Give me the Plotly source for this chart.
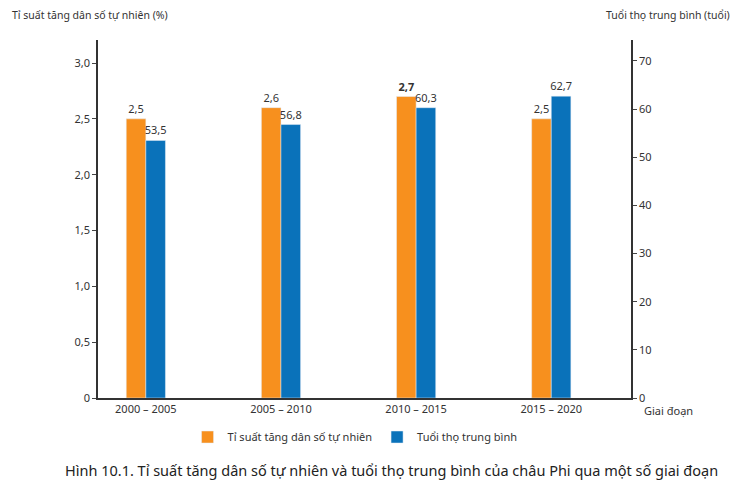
import plotly.graph_objects as go

periods = ["2000 – 2005", "2005 – 2010", "2010 – 2015", "2015 – 2020"]
growth = [2.5, 2.6, 2.7, 2.5]
growth_lbl = ["2,5", "2,6", "<b>2,7</b>", "2,5"]
life = [53.5, 56.8, 60.3, 62.7]
life_lbl = ["53,5", "56,8", "60,3", "62,7"]
lt_vals = [0, 0.5, 1.0, 1.5, 2.0, 2.5, 3.0]
lt_text = ["0", "0,5", "1,0", "1,5", "2,0", "2,5", "3,0"]
rt_vals = [0, 10, 20, 30, 40, 50, 60, 70]

OR = "#F7901E"; BL = "#0A72BA"
fig = go.Figure()
fig.add_bar(x=periods, y=growth, name="Tỉ suất tăng dân số tự nhiên", marker_color=OR,
            text=growth_lbl, textposition="outside", offsetgroup="a", yaxis="y",
            textfont=dict(size=11, color="#333"), cliponaxis=False)
fig.add_bar(x=periods, y=life, name="Tuổi thọ trung bình", marker_color=BL,
            text=life_lbl, textposition="outside", offsetgroup="b", yaxis="y2",
            textfont=dict(size=11, color="#333"), cliponaxis=False)
fig.update_layout(
    width=746, height=487, margin=dict(l=90, r=123, t=32, b=97, autoexpand=False),
    plot_bgcolor="white", paper_bgcolor="white", barmode="group",
    bargap=0.71, bargroupgap=0, uniformtext=dict(minsize=11, mode="show"),
    font=dict(family="Noto Sans", size=11, color="#333"),
    xaxis=dict(showline=True, linecolor="#333", linewidth=1.5, ticks="", tickfont=dict(size=11),
               range=[-0.354, 3.59]),
    yaxis=dict(range=[0, 3.206], tickvals=lt_vals, ticktext=lt_text, showgrid=False,
               showline=True, linecolor="#333", linewidth=1.5, ticks="outside", ticklen=4),
    yaxis2=dict(range=[0, 74.36], tickvals=rt_vals, overlaying="y", side="right", showgrid=False,
                showline=True, linecolor="#333", linewidth=1.5, ticks="outside", ticklen=4),
    legend=dict(orientation="h", x=0.168, y=-0.109, xanchor="left", yanchor="middle", font=dict(size=11)),
    showlegend=True,
    annotations=[
        dict(text="Tỉ suất tăng dân số tự nhiên (%)", xref="paper", yref="paper", x=-0.165, y=1.07,
             xanchor="left", yanchor="middle", showarrow=False, font=dict(size=10.5)),
        dict(text="Tuổi thọ trung bình (tuổi)", xref="paper", yref="paper", x=1.19, y=1.07,
             xanchor="right", yanchor="middle", showarrow=False, font=dict(size=10.5)),
        dict(text="Giai đoạn", xref="paper", yref="paper", x=1.02, y=-0.034, xanchor="left",
             yanchor="middle", showarrow=False, font=dict(size=11)),
        dict(text="Hình 10.1. Tỉ suất tăng dân số tự nhiên và tuổi thọ trung bình của châu Phi qua một số giai đoạn",
             xref="paper", yref="paper", x=0.55, y=-0.201, yanchor="middle", xanchor="center",
             showarrow=False, font=dict(size=14.5, color="#222")),
    ],
)
fig.write_html("out.html")
